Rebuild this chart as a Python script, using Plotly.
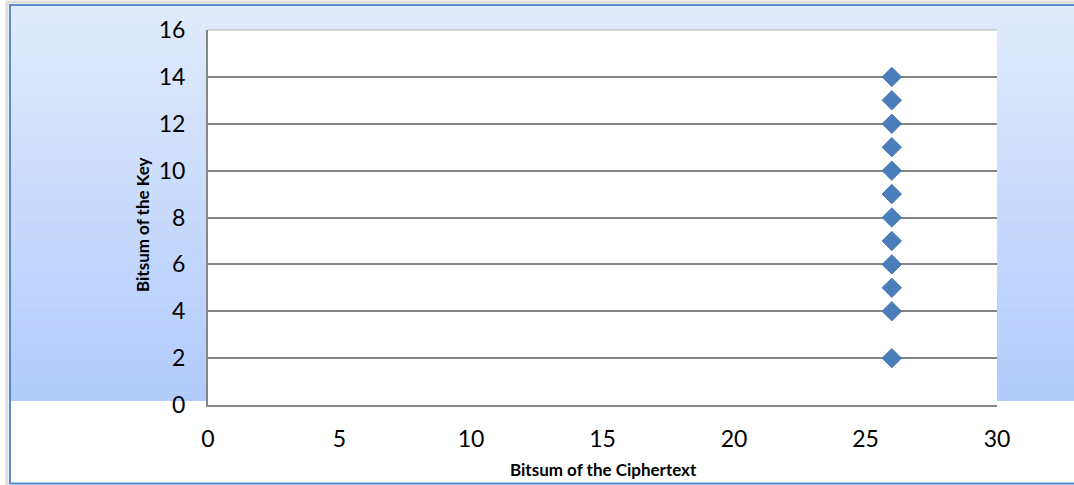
import plotly.graph_objects as go

# Bitsum of ciphertext vs. bitsum of key
ciphertext_bitsum = [26, 26, 26, 26, 26, 26, 26, 26, 26, 26, 26, 26]
key_bitsum = [2, 4, 5, 6, 7, 8, 9, 10, 11, 12, 13, 14]

x_ticks = [0, 5, 10, 15, 20, 25, 30]
y_ticks = [0, 2, 4, 6, 8, 10, 12, 14, 16]

W, H = 1074, 485
L, R, T, B = 208, 997, 30, 405  # plot area in pixels


def px_x(p):
    return (p - L) / (R - L)


def px_y(p):
    return (B - p) / (B - T)


def mix(c1, c2, t):
    return "rgb({},{},{})".format(*[round(a + (b - a) * t) for a, b in zip(c1, c2)])


shapes = []
# vertical gradient behind the chart
top_c, bot_c = (225, 235, 252), (176, 203, 252)
g_top, g_bot = 5, 401
n = 90
for i in range(n):
    y0 = g_top + (g_bot - g_top) * i / n
    y1 = g_top + (g_bot - g_top) * (i + 1) / n + 0.6
    shapes.append(dict(
        type="rect", xref="paper", yref="paper", layer="below",
        x0=px_x(10), x1=px_x(1080), y0=px_y(min(y1, g_bot)), y1=px_y(y0),
        fillcolor=mix(top_c, bot_c, (i + 0.5) / n), line=dict(width=0),
    ))

# white plot area on top of the gradient
shapes.append(dict(type="rect", xref="paper", yref="paper", layer="below",
                   x0=0, x1=1, y0=0, y1=1,
                   fillcolor="white", line=dict(width=0)))

# outer frame with a soft shadow
shapes.append(dict(type="rect", xref="paper", yref="paper", layer="above",
                   x0=px_x(7), x1=px_x(1090), y0=px_y(486), y1=px_y(2),
                   line=dict(color="rgba(200,200,200,0.6)", width=3),
                   fillcolor="rgba(0,0,0,0)"))
shapes.append(dict(type="rect", xref="paper", yref="paper", layer="above",
                   x0=px_x(10), x1=px_x(1090), y0=px_y(483.5), y1=px_y(5),
                   line=dict(color="#5b8bcb", width=2),
                   fillcolor="rgba(0,0,0,0)"))
# top edge of plot area
shapes.append(dict(type="line", xref="paper", yref="paper", layer="above",
                   x0=0, x1=1, y0=1, y1=1,
                   line=dict(color="#b4b4b4", width=1.2)))

fig = go.Figure()
fig.add_trace(go.Scatter(
    x=ciphertext_bitsum, y=key_bitsum, mode="markers",
    marker=dict(symbol="diamond", size=15, color="#4a7ebb",
                line=dict(color="#3f70ad", width=0.8)),
    showlegend=False, cliponaxis=False,
))

font_family = "Lato, 'Open Sans', sans-serif"
tick_font = dict(family=font_family, size=23, color="#000000")
title_font = dict(family=font_family, size=17, color="#000000")

annotations = [
    dict(text="<b>Bitsum of the Ciphertext</b>", xref="paper", yref="paper",
         x=px_x(603), y=px_y(469), showarrow=False, font=title_font,
         xanchor="center", yanchor="middle"),
    dict(text="<b>Bitsum of the Key</b>", xref="paper", yref="paper",
         x=px_x(142), y=px_y(225), showarrow=False, font=title_font,
         textangle=-90, xanchor="center", yanchor="middle"),
]

fig.update_layout(
    width=W, height=H,
    margin=dict(l=L, r=W - R, t=T, b=H - B, pad=0),
    paper_bgcolor="white", plot_bgcolor="white",
    shapes=shapes,
    annotations=annotations,
    xaxis=dict(
        range=[0, 30], tickmode="array", tickvals=x_ticks,
        showgrid=False, zeroline=False,
        showline=True, linecolor="#868686", linewidth=2,
        ticks="", tickfont=tick_font, ticklabelstandoff=12,
    ),
    yaxis=dict(
        range=[0, 16], tickmode="array", tickvals=y_ticks,
        showgrid=True, gridcolor="#858585", gridwidth=2,
        zeroline=False,
        showline=True, linecolor="#868686", linewidth=2,
        ticks="", tickfont=tick_font, ticklabelstandoff=16,
    ),
)

fig.write_html("out.html")
